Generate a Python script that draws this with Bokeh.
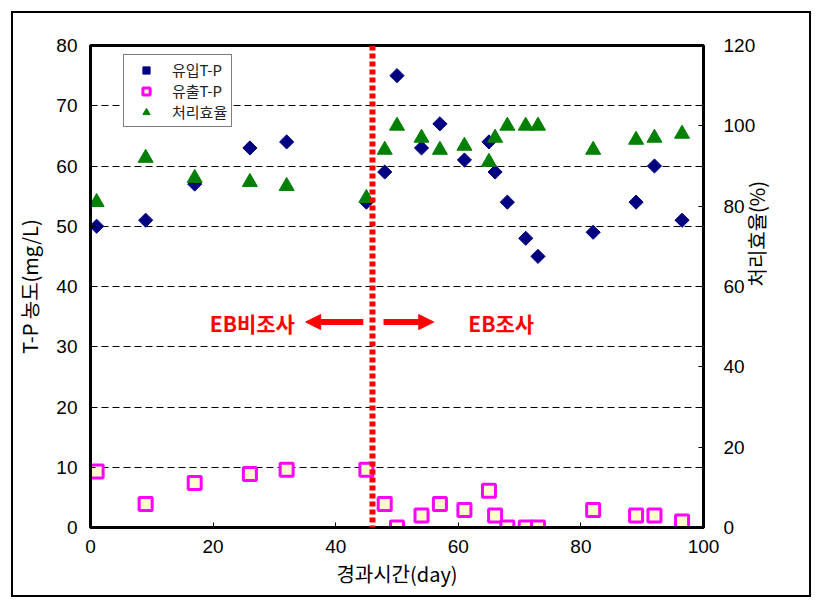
import math
from bokeh.plotting import figure
from bokeh.models import (Range1d, LinearAxis, FixedTicker, Span, Arrow, NormalHead,
                          Label, Legend, LegendItem, InlineStyleSheet)
from bokeh.embed import file_html
from bokeh.resources import INLINE

# ---- data ----
days = [1, 9, 17, 26, 32, 45, 48, 50, 54, 57, 61, 65, 66, 68, 71, 73, 82, 89, 92, 96.5]
inflow_tp = [50, 51, 57, 63, 64, 54, 59, 75, 63, 67, 61, 64, 59, 54, 48, 45, 49, 54, 60, 51]
outflow_tp = [9.3, 3.9, 7.4, 8.9, 9.6, 9.6, 3.9, 0, 2.0, 3.9, 2.9, 6.1, 2.0, 0, 0, 0, 2.9, 2.0, 2.0, 1.0]
efficiency = [81, 92, 87, 86, 85, 82, 94, 100, 97, 94, 95, 91, 97, 100, 100, 100, 94, 96.5, 97, 98]

x_ticks = [0, 20, 40, 60, 80, 100]
left_ticks = [0, 10, 20, 30, 40, 50, 60, 70, 80]
right_ticks = [0, 20, 40, 60, 80, 100, 120]

boundary_day = 46
label_before = "EB비조사"
label_after = "EB조사"
legend_labels = ["유입T-P", "유출T-P", "처리효율"]
right_title = "처리효율(%)"

KR = "Noto Sans CJK KR"
NUM = "Liberation Sans"

W, H = 815, 600
p = figure(width=W, height=H, x_range=Range1d(0, 100), y_range=Range1d(0, 80),
           output_backend="svg", toolbar_location=None,
           min_border_left=90, min_border_right=W - 703, min_border_top=45,
           min_border_bottom=H - 527)
p.extra_y_ranges = {"eff": Range1d(0, 120)}
p.background_fill_color = "white"
p.border_fill_color = "white"
p.outline_line_color = "black"
p.outline_line_width = 3

# outer chart border (drawn by CSS on the figure's host element)
p.stylesheets = [InlineStyleSheet(css=(
    ":host::after { content: ''; position: absolute; left: 11px; top: 11px; "
    "width: 800px; height: 586px; border: 2px solid black; box-sizing: border-box; "
    "pointer-events: none; z-index: 1000; }"))]

# grid
p.xgrid.visible = False
p.ygrid.ticker = FixedTicker(ticks=left_ticks)
p.ygrid.grid_line_color = "black"
p.ygrid.grid_line_dash = "7 4"
p.ygrid.grid_line_width = 1

def style_axis(ax, std, lstd):
    ax.major_tick_in = 5
    ax.major_tick_out = 0
    ax.minor_tick_in = 0
    ax.minor_tick_out = 0
    ax.axis_line_width = 3
    ax.axis_line_color = "black"
    ax.major_tick_line_color = "black"
    ax.major_tick_line_width = 1
    ax.major_label_text_font = NUM
    ax.major_label_text_font_size = "19px"
    ax.major_label_text_color = "black"
    ax.axis_label_text_font = KR
    ax.axis_label_text_font_size = "20px"
    ax.axis_label_text_font_style = "normal"
    ax.axis_label_text_color = "black"
    ax.major_label_standoff = std
    ax.axis_label_standoff = lstd

xa = p.xaxis[0]
xa.ticker = FixedTicker(ticks=x_ticks)
xa.axis_label = "경과시간(day)"
style_axis(xa, 12, 3)

ya = p.yaxis[0]
ya.ticker = FixedTicker(ticks=left_ticks)
ya.axis_label = "T-P 농도(mg/L)"
style_axis(ya, 13, 9)

# right axis: ticks and labels
ra = LinearAxis(y_range_name="eff", ticker=FixedTicker(ticks=right_ticks))
style_axis(ra, 20, 2)
p.add_layout(ra, "right")

# second right axis carrying only the title, reading bottom-to-top
rt = LinearAxis(y_range_name="eff", ticker=FixedTicker(ticks=[]), axis_label=right_title,
                bounds=(0, 94))
style_axis(rt, 0, -2)
rt.axis_line_color = None
rt.major_tick_line_color = None
rt.major_tick_in = 0
try:
    rt.axis_label_orientation = math.pi / 2
except Exception:
    pass
p.add_layout(rt, "right")

# data glyphs
r_in = p.scatter(days, inflow_tp, marker="square", angle=math.pi / 4, size=10,
                 fill_color="#000080", line_color="#000080")
r_out = p.scatter(days, outflow_tp, marker="square", size=13,
                  fill_color="#FFFFCC", line_color="#FF00FF", line_width=3)
r_eff = p.scatter(days, efficiency, marker="triangle", size=15, y_range_name="eff",
                  fill_color="#008000", line_color="#008000")

legend = Legend(items=[LegendItem(label=legend_labels[0], renderers=[r_in]),
                       LegendItem(label=legend_labels[1], renderers=[r_out]),
                       LegendItem(label=legend_labels[2], renderers=[r_eff])],
                location=(33, 400))
legend.label_text_font = KR
legend.label_text_font_size = "15px"
legend.label_text_color = "#222222"
legend.border_line_color = "black"
legend.border_line_width = 1
legend.background_fill_alpha = 1
legend.padding = 4
legend.spacing = 0
legend.margin = 0
legend.label_height = 18
legend.glyph_height = 18
legend.glyph_width = 36
legend.label_standoff = 8
p.add_layout(legend)

# boundary line and annotations
p.add_layout(Span(location=boundary_day, dimension="height", line_color="red",
                  line_width=6, line_dash="5 3"))

p.add_layout(Arrow(end=NormalHead(size=15, fill_color="red", line_color="red"),
                   x_start=44.5, y_start=34.1, x_end=35.1, y_end=34.1,
                   line_color="red", line_width=6))
p.add_layout(Arrow(end=NormalHead(size=15, fill_color="red", line_color="red"),
                   x_start=47.8, y_start=34.1, x_end=56.0, y_end=34.1,
                   line_color="red", line_width=6))

p.add_layout(Label(x=26.4, y=34.0, text=label_before, text_align="center",
                   text_baseline="middle", text_color="red", text_font=KR,
                   text_font_style="bold", text_font_size="21px"))
p.add_layout(Label(x=67.0, y=34.0, text=label_after, text_align="center",
                   text_baseline="middle", text_color="red", text_font=KR,
                   text_font_style="bold", text_font_size="21px"))

open("out.html", "w").write(file_html(p, INLINE))
